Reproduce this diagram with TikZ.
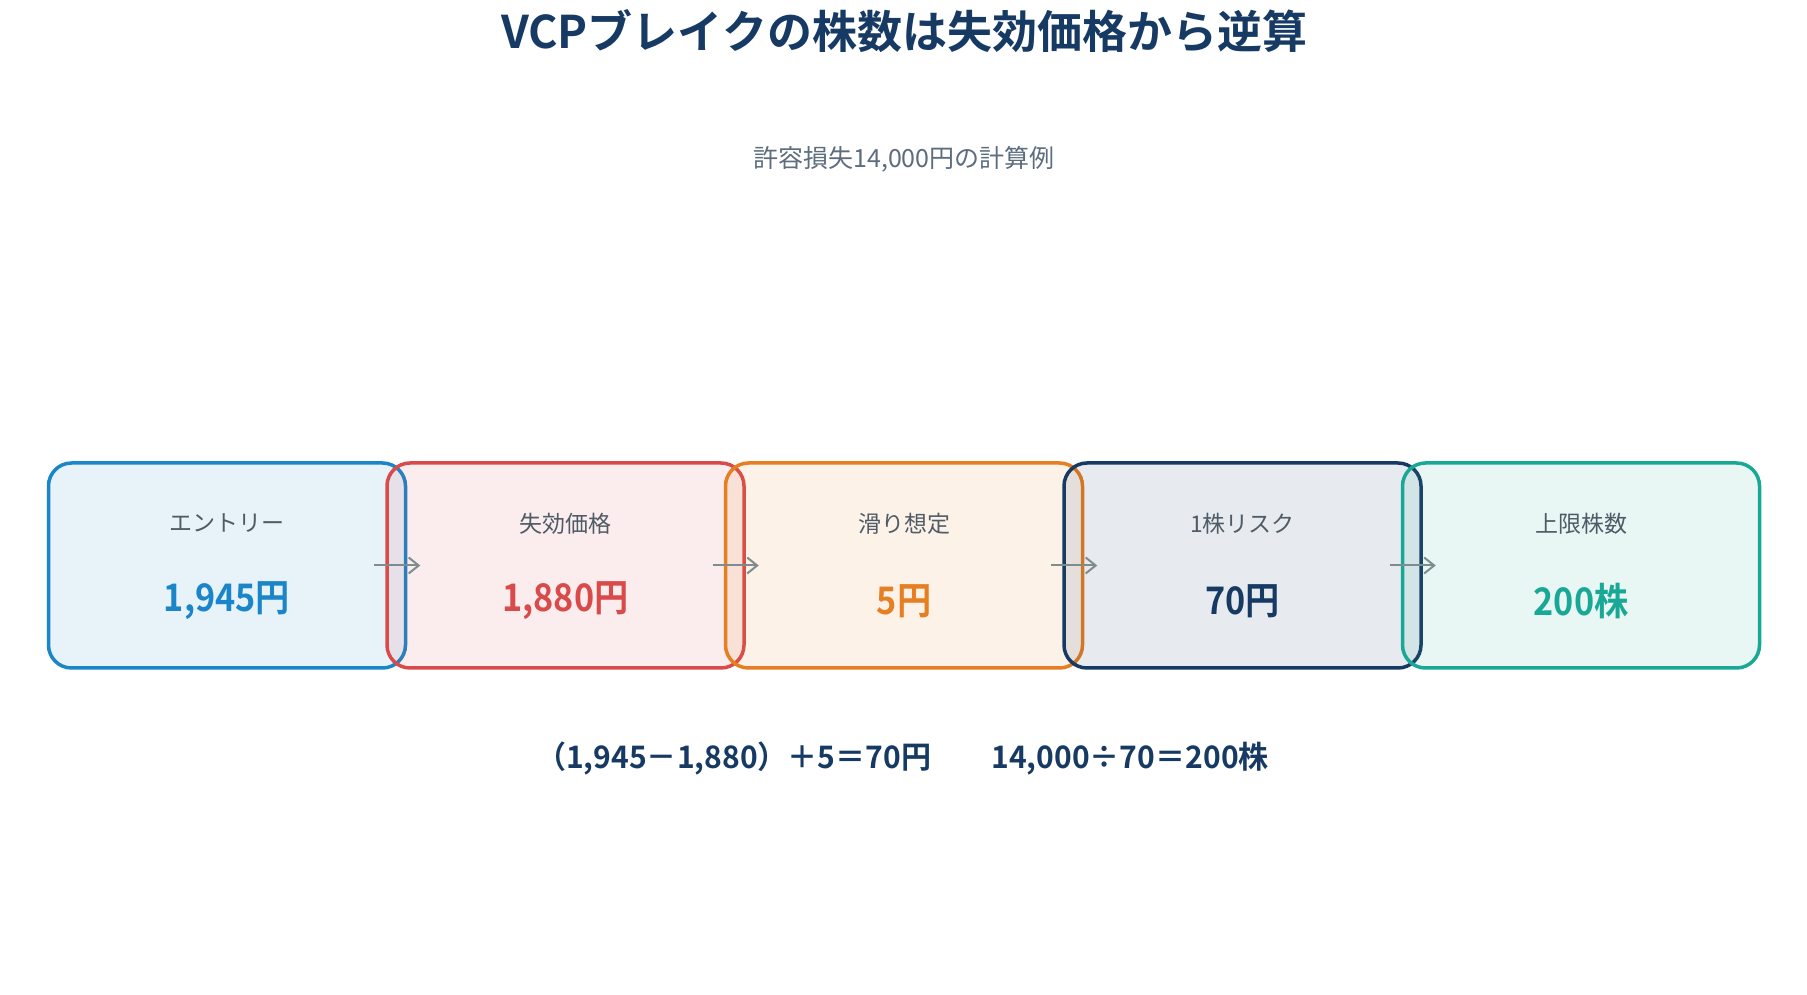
\documentclass[tikz,border=0pt]{standalone}
\usepackage{fontspec}
\setmainfont{Noto Sans CJK JP}[BoldFont={Noto Sans CJK JP Bold}]
\newfontfamily\valuefont{Noto Sans CJK JP Bold}[FakeStretch=0.9]
\newfontfamily\calcfont{Noto Sans CJK JP Bold}[FakeStretch=0.97]
\usetikzlibrary{positioning,arrows.meta}

\definecolor{titlenavy}{HTML}{163A63}
\definecolor{subgray}{HTML}{5D6D7E}
\definecolor{labelgray}{HTML}{4F5B66}
\definecolor{arrowgray}{HTML}{7F8C8D}
\definecolor{entryblue}{HTML}{1A85C8}
\definecolor{stopred}{HTML}{D94A4A}
\definecolor{sliporange}{HTML}{E67E22}
\definecolor{risknavy}{HTML}{163A63}
\definecolor{capteal}{HTML}{1AA896}

\tikzset{
    >={Straight Barb[length=10pt,width=16pt]},
    stepbox/.style={
        rectangle,
        rounded corners=23pt,
        line width=3.5pt,
        fill opacity=0.1,
        minimum width=357pt,
        minimum height=205pt
    },
    steplabel/.style={
        text=labelgray,
        font=\fontsize{23pt}{27pt}\selectfont
    },
    stepvalue/.style={
        font=\fontsize{38pt}{44pt}\valuefont
    },
    flow/.style={draw=arrowgray, line width=2pt, ->}
}

\begin{document}
\begin{tikzpicture}[
            title/.style={
                text=titlenavy,
                font=\fontsize{45pt}{52pt}\selectfont\bfseries
            },
            subtitle/.style={
                text=subgray,
                font=\fontsize{25pt}{29pt}\selectfont
            },
            formula/.style={
                text=titlenavy,
                font=\fontsize{31pt}{36pt}\calcfont
            },
            node distance=2mm and -22pt]
    \useasboundingbox (0,0) rectangle (1807pt,994pt);

    \node[title] (title) at (904pt,963pt) {VCPブレイクの株数は失効価格から逆算};
    \node[subtitle] (sub) at (904pt,835pt) {許容損失14,000円の計算例};

    % five steps, each box overlapping the one before
    \node[stepbox, draw=entryblue, fill=entryblue] (b1) at (227pt,428.5pt) {};
    \node[stepbox, draw=stopred, fill=stopred, right=of b1] (b2) {};
    \node[stepbox, draw=sliporange, fill=sliporange, right=of b2] (b3) {};
    \node[stepbox, draw=risknavy, fill=risknavy, right=of b3] (b4) {};
    \node[stepbox, draw=capteal, fill=capteal, right=of b4] (b5) {};

    \node[steplabel] (l1) at ([yshift=42pt]b1.center) {エントリー};
    \node[steplabel] (l2) at ([yshift=42pt]b2.center) {失効価格};
    \node[steplabel] (l3) at ([yshift=42pt]b3.center) {滑り想定};
    \node[steplabel] (l4) at ([yshift=42pt]b4.center) {1株リスク};
    \node[steplabel] (l5) at ([yshift=42pt]b5.center) {上限株数};

    \node[stepvalue, text=entryblue] (v1) at ([yshift=-35.5pt]b1.center) {1,945円};
    \node[stepvalue, text=stopred] (v2) at ([yshift=-35.5pt]b2.center) {1,880円};
    \node[stepvalue, text=sliporange] (v3) at ([yshift=-35.5pt]b3.center) {5円};
    \node[stepvalue, text=risknavy] (v4) at ([yshift=-35.5pt]b4.center) {70円};
    \node[stepvalue, text=capteal] (v5) at ([yshift=-35.5pt]b5.center) {200株};

    \draw[flow] ([xshift=-33pt]b1.east) -- ([xshift=35pt]b2.west);
    \draw[flow] ([xshift=-33pt]b2.east) -- ([xshift=35pt]b3.west);
    \draw[flow] ([xshift=-33pt]b3.east) -- ([xshift=35pt]b4.west);
    \draw[flow] ([xshift=-33pt]b4.east) -- ([xshift=35pt]b5.west);

    \node[formula] (calc) at (902.5pt,235.5pt) {（1,945－1,880）＋5＝70円　　14,000÷70＝200株};
\end{tikzpicture}
\end{document}
